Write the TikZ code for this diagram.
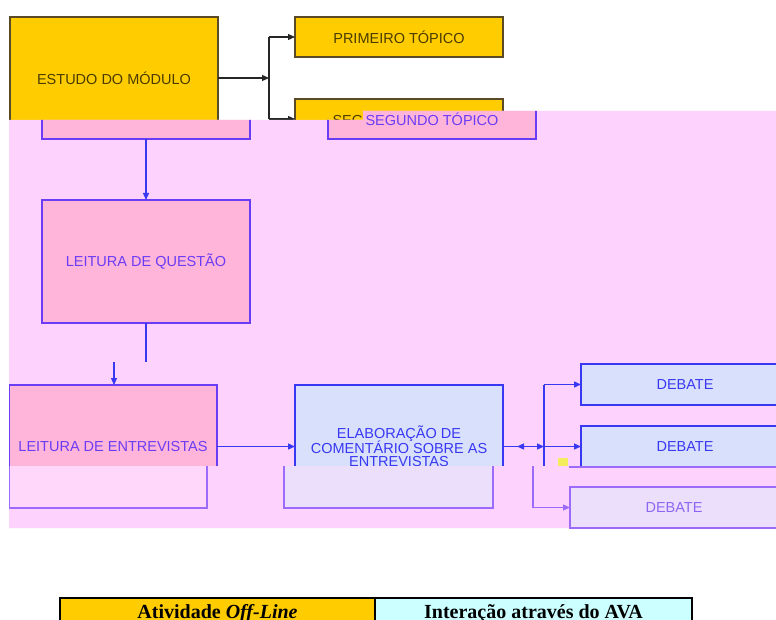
\documentclass[tikz,border=0pt]{standalone}
\usepackage{fontspec}
\setmainfont{Liberation Serif}
\setsansfont{Liberation Sans}
\usetikzlibrary{arrows.meta,calc}

\definecolor{gold}{HTML}{FFCC00}
\definecolor{goldline}{HTML}{5A4A26}
\definecolor{goldtext}{HTML}{4A3C00}
\definecolor{lilacbg}{HTML}{FDD3FD}
\definecolor{rosefill}{HTML}{FFB4DA}
\definecolor{iceblue}{HTML}{D9E0FC}
\definecolor{violet}{HTML}{6A3CF5}
\definecolor{royal}{HTML}{3838F2}
\definecolor{paleline}{HTML}{9C6BFA}
\definecolor{palerose}{HTML}{FED7FA}
\definecolor{palelav}{HTML}{ECDFFB}
\definecolor{paletext}{HTML}{8E66F2}
\definecolor{cyancell}{HTML}{CCFFFF}
\definecolor{glitch}{HTML}{F4EE5C}

\tikzset{
  box/.style={draw, line width=1.4pt, inner sep=0pt, outer sep=0pt,
    anchor=north west, minimum width=208pt, align=center,
    font=\sffamily\fontsize{14.5}{13}\selectfont},
  yellowbox/.style={box, fill=gold, draw=goldline, text=goldtext},
  rosebox/.style={box, fill=rosefill, draw=violet, text=violet},
  bluebox/.style={box, fill=iceblue, draw=royal, text=royal},
  palebox/.style={box, fill=palelav, draw=paleline, text=paletext},
  tip/.style={-{Triangle[length=7pt,width=6pt]}},
  blackline/.style={draw=black!85, line width=1.2pt},
  blackcon/.style={blackline, tip},
  blueline/.style={draw=royal, line width=1.3pt},
  bluecon/.style={blueline, tip},
  paleconn/.style={draw=paleline, line width=1.2pt, tip},
  cell/.style={draw=black, line width=1.6pt, fill=#1, anchor=north west,
    inner sep=0pt, outer sep=0pt, minimum width=315pt, minimum height=30pt,
    text height=14pt, text depth=4pt,
    font=\rmfamily\bfseries\fontsize{20}{22}\selectfont}
}

\begin{document}
\begin{tikzpicture}[x=1pt, y=-1pt]
  \useasboundingbox (0,0) rectangle (776,620);
  \fill[white] (0,0) rectangle (776,620);

  % ---- module study and its two topics
  \node[yellowbox, minimum height=122pt] (estudo) at (10,17) {ESTUDO DO MÓDULO};
  \node[yellowbox, minimum height=40pt] (prim) at (295,17) {PRIMEIRO TÓPICO};
  \node[yellowbox, minimum height=40pt] (seg) at (295,99) {SEGUNDO TÓPICO};
  \coordinate (jt) at (269,78);
  \draw[blackcon] (estudo.east) -- (jt);
  \draw[blackline] (jt |- prim.west) -- (jt |- seg.west);
  \draw[blackcon] (jt |- prim.west) -- (prim.west);
  \draw[blackcon] (jt |- seg.west) -- (seg.west);

  % ---- lilac sheet laid over the upper part
  \fill[lilacbg] (9,120) -- (363,120) -- (363,111) -- (776,111)
    -- (776,528) -- (9,528) -- cycle;

  \begin{scope}
    \clip (9,120) -- (363,120) -- (363,111) -- (776,111)
      -- (776,528) -- (9,528) -- cycle;
    \node[rosebox, minimum height=123pt] (modulo) at (42,16) {};
    \node[rosebox, minimum height=40pt] (segb) at (328,99) {SEGUNDO TÓPICO};
    \node[rosebox, minimum height=123pt] (questao) at (42,200) {LEITURA DE QUESTÃO};
    \node[rosebox, minimum height=123pt] (entrev) at (9,385) {LEITURA DE ENTREVISTAS};
    \node[bluebox, minimum height=123pt] (elab) at (295,385)
      {ELABORAÇÃO DE\\[-2pt]COMENTÁRIO SOBRE AS\\ENTREVISTAS};
    \node[bluebox, minimum height=41pt] (deb1) at (581,364) {DEBATE};
    \node[bluebox, minimum height=41pt] (deb2) at (581,426) {DEBATE};

    \coordinate (qend) at (146,362);
    \coordinate (estart) at (114,362);
    \coordinate (jd) at (544,446.5);
    \coordinate (jl) at (517,446.5);
    \coordinate (jdown) at (544,472);

    \draw[bluecon] (modulo.south) -- (questao.north);
    \draw[blueline] (questao.south) -- (qend);
    \draw[bluecon] (estart) -- (estart |- entrev.north);
    \draw[bluecon] (entrev.east) -- (elab.west);
    \draw[bluecon] (elab.east) -- (jd);
    \draw[bluecon] (jd) -- (jl);
    \draw[blueline] (jd |- deb1.west) -- (jdown);
    \draw[bluecon] (jd |- deb1.west) -- (deb1.west);
    \draw[bluecon] (jd) -- (deb2.west);
  \end{scope}

  \fill[glitch] (558,458) rectangle (568,466);

  % ---- lower strip
  \fill[lilacbg] (9,466) rectangle (776,528);
  \begin{scope}
    \clip (9,466) rectangle (776,529);
    \node[palebox, fill=palerose, minimum width=198pt, minimum height=123pt]
      (entrevb) at (9,385) {};
    \node[palebox, minimum width=209pt, minimum height=123pt] (elabb) at (284,385) {};
    \node[palebox, minimum height=41pt] (deb2b) at (570,426) {};
    \node[palebox, minimum height=41pt] (deb3) at (570,487) {DEBATE};
    \coordinate (jb) at (533,460);
    \draw[paleconn] (jb) |- (deb3.west);
  \end{scope}

  % ---- legend
  \node[cell=gold] (off) at (60,598) {Atividade \textit{Off-Line}};
  \node[cell=cyancell, minimum width=317pt] (ava) at (375,598) {Interação através do AVA};
\end{tikzpicture}
\end{document}
